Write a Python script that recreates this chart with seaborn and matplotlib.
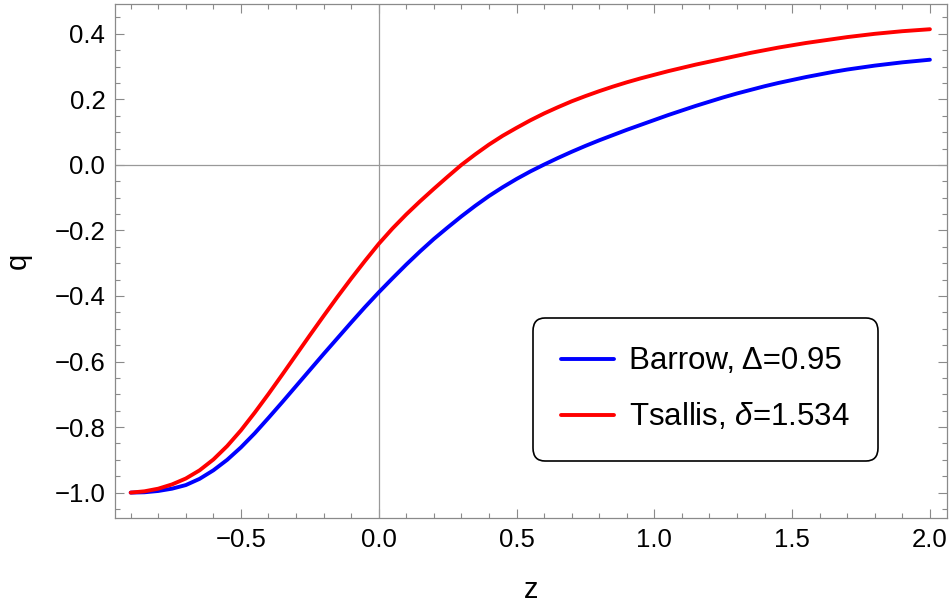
import numpy as np
import pandas as pd
import matplotlib
matplotlib.use("Agg")
import matplotlib.pyplot as plt
from matplotlib.ticker import MultipleLocator, FuncFormatter
import seaborn as sns

# Redshift grid and deceleration parameter for each model
z = [-0.90, -0.85, -0.80, -0.75, -0.70, -0.65, -0.60, -0.55, -0.50, -0.45,
     -0.40, -0.35, -0.30, -0.25, -0.20, -0.15, -0.10, -0.05, 0.00, 0.05,
     0.10, 0.15, 0.20, 0.25, 0.30, 0.35, 0.40, 0.45, 0.50, 0.55,
     0.60, 0.65, 0.70, 0.75, 0.80, 0.85, 0.90, 0.95, 1.00, 1.05,
     1.10, 1.15, 1.20, 1.25, 1.30, 1.35, 1.40, 1.45, 1.50, 1.55,
     1.60, 1.65, 1.70, 1.75, 1.80, 1.85, 1.90, 1.95, 2.00]

q_barrow = [-1.000, -0.999, -0.995, -0.988, -0.977, -0.958, -0.932, -0.900, -0.862, -0.819,
            -0.772, -0.724, -0.675, -0.626, -0.577, -0.529, -0.481, -0.434, -0.389, -0.346,
            -0.304, -0.264, -0.226, -0.191, -0.157, -0.125, -0.095, -0.068, -0.043, -0.020,
            0.001, 0.021, 0.040, 0.058, 0.075, 0.091, 0.107, 0.122, 0.137, 0.152,
            0.166, 0.180, 0.193, 0.206, 0.218, 0.229, 0.240, 0.250, 0.259, 0.268,
            0.276, 0.284, 0.291, 0.297, 0.303, 0.308, 0.313, 0.317, 0.321]

q_tsallis = [-1.000, -0.996, -0.988, -0.975, -0.957, -0.932, -0.899, -0.858, -0.810, -0.756,
             -0.699, -0.640, -0.580, -0.520, -0.461, -0.403, -0.347, -0.293, -0.241, -0.194,
             -0.151, -0.111, -0.073, -0.036, 0.000, 0.032, 0.062, 0.089, 0.113, 0.136,
             0.157, 0.176, 0.194, 0.210, 0.225, 0.239, 0.252, 0.264, 0.275, 0.286,
             0.296, 0.306, 0.315, 0.324, 0.333, 0.342, 0.350, 0.358, 0.365, 0.372,
             0.378, 0.384, 0.390, 0.395, 0.400, 0.404, 0.408, 0.411, 0.414]

label_barrow = "Barrow, Δ=0.95"
label_tsallis = r"Tsallis, $\delta$=1.534"

x_major = [-0.5, 0.0, 0.5, 1.0, 1.5, 2.0]
y_major = [-1.0, -0.8, -0.6, -0.4, -0.2, 0.0, 0.2, 0.4]

df = pd.DataFrame({
    "z": z + z,
    "q": q_barrow + q_tsallis,
    "model": [label_barrow] * len(z) + [label_tsallis] * len(z),
})

sns.set_theme(style="ticks")
plt.rcParams["font.family"] = ["Liberation Sans", "DejaVu Sans"]
plt.rcParams["mathtext.fontset"] = "custom"
plt.rcParams["mathtext.rm"] = "Liberation Sans"
plt.rcParams["mathtext.it"] = "Liberation Sans:italic"
plt.rcParams["text.color"] = "black"
plt.rcParams["axes.labelcolor"] = "black"

frame_col = "#8a8a8a"

fig = plt.figure(figsize=(9.51, 6.06), dpi=100)
ax = fig.add_axes([0.1209, 0.1452, 0.8749, 0.8482])

# reference axes through the origin
ax.axhline(0, color="#999999", lw=0.9, zorder=1)
ax.axvline(0, color="#999999", lw=0.9, zorder=1)

sns.lineplot(data=df, x="z", y="q", hue="model",
             palette={label_barrow: "#0000ff", label_tsallis: "#ff0000"},
             estimator=None, sort=False, lw=2.8, ax=ax, legend=False, zorder=3)

ax.set_xlim(-0.957, 2.062)
ax.set_ylim(-1.0775, 0.491)

fmt = FuncFormatter(lambda v, pos: f"{v:.1f}".replace("-", "\u2212"))
ax.set_xticks(x_major)
ax.set_yticks(y_major)
ax.xaxis.set_minor_locator(MultipleLocator(0.1))
ax.yaxis.set_minor_locator(MultipleLocator(0.05))
ax.xaxis.set_major_formatter(fmt)
ax.yaxis.set_major_formatter(fmt)

ax.tick_params(which="both", direction="in", top=True, right=True,
               color=frame_col, labelcolor="black", labelsize=18.5)
ax.tick_params(which="major", length=6.5, width=0.8, pad=7)
ax.tick_params(which="minor", length=3.6, width=0.8)

for sp in ax.spines.values():
    sp.set_color(frame_col)
    sp.set_linewidth(0.9)

ax.set_xlabel("z", fontsize=21, color="black")
ax.set_ylabel("q", fontsize=21, color="black")
ax.xaxis.set_label_coords(0.5, -0.112)
ax.yaxis.set_label_coords(-0.100, 0.5)

handles = [plt.Line2D([], [], color="#0000ff", lw=2.8),
           plt.Line2D([], [], color="#ff0000", lw=2.8)]
leg = ax.legend(handles, [label_barrow, label_tsallis],
                loc="upper left", bbox_to_anchor=(0.502, 0.3885),
                bbox_transform=ax.transAxes, borderaxespad=0,
                fontsize=22.5, handlelength=1.69, handletextpad=0.5,
                borderpad=0.9, labelspacing=0.8, frameon=True,
                fancybox=True, framealpha=1, edgecolor="black")
for t in leg.get_texts():
    t.set_color("black")
frame = leg.get_frame()
frame.set_linewidth(1.2)
frame.set_boxstyle("round", pad=0, rounding_size=0.4)

fig.savefig("out.png", dpi=100)
